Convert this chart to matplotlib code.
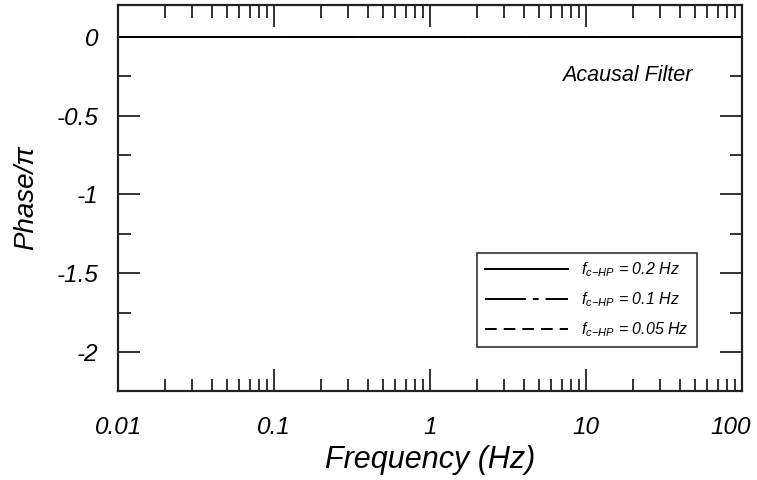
import matplotlib
matplotlib.use('Agg')
import matplotlib.pyplot as plt
import matplotlib.transforms as mtransforms
import numpy as np

plt.rcParams['font.family'] = ['Liberation Sans', 'DejaVu Sans']
plt.rcParams['font.style'] = 'italic'
plt.rcParams['mathtext.fontset'] = 'custom'
plt.rcParams['mathtext.it'] = 'Liberation Sans:italic'
plt.rcParams['mathtext.rm'] = 'Liberation Sans:italic'

# data: phase of an acausal (zero-phase) filter is zero everywhere
freq = [0.01, 0.1, 1, 10, 100]
phase_02 = [0, 0, 0, 0, 0]
phase_01 = [0, 0, 0, 0, 0]
phase_005 = [0, 0, 0, 0, 0]
labels = [r'$f_{c\mathrm{-}HP}$ = 0.2 Hz', r'$f_{c\mathrm{-}HP}$ = 0.1 Hz', r'$f_{c\mathrm{-}HP}$ = 0.05 Hz']

fig = plt.figure(figsize=(7.57, 4.8), dpi=100)
ax = fig.add_axes([0.156, 0.185, 0.824, 0.805])

ax.plot(freq, phase_02, color='black', lw=1.4, ls='-', label=labels[0])
ax.plot(freq, phase_01, color='black', lw=1.4, ls=(0, (21, 3.6, 3, 3.6)), label=labels[1])
ax.plot(freq, phase_005, color='black', lw=1.4, ls=(0, (6, 3.6)), label=labels[2])

ax.set_xscale('log')
ax.set_xlim(0.01, 100)
ax.set_ylim(-2.205, 0.205)
ax.set_yticks([0, -0.5, -1, -1.5, -2])
ax.set_yticklabels(['0', '-0.5', '-1', '-1.5', '-2'])
ax.set_yticks(np.arange(-2.25, 0.2, 0.25), minor=True)
ax.set_xticks(freq)
ax.set_xticklabels(['0.01', '0.1', '1', '10', '100'])

ax.tick_params(which='both', direction='in', top=True, right=True, width=1.3, colors='#222222',
               labelsize=17.5, labelcolor='black')
ax.tick_params(which='major', length=16)
ax.tick_params(which='minor', length=9)
ax.tick_params(axis='x', which='major', pad=18)
ax.tick_params(axis='y', which='major', pad=14)
for s in ax.spines.values():
    s.set_linewidth(1.6)
    s.set_color('#222222')

# last x label pulled left so it stays inside the figure
last = ax.get_xticklabels()[-1]
last.set_transform(last.get_transform() + mtransforms.ScaledTranslation(-8 / 72, 0, fig.dpi_scale_trans))

ax.set_xlabel('Frequency (Hz)', fontsize=22, labelpad=4)
ax.set_ylabel('Phase/\u03c0', fontsize=20, labelpad=13)

ax.text(0.921, 0.818, 'Acausal Filter', transform=ax.transAxes, ha='right', va='center', fontsize=15.5)

leg = ax.legend(loc='lower right', bbox_to_anchor=(0.928, 0.114), fontsize=11.5, frameon=True,
                fancybox=False, edgecolor='black', handlelength=5.2, labelspacing=0.7,
                borderpad=0.5, handletextpad=0.8, borderaxespad=0)
leg.get_frame().set_linewidth(1.2)

fig.savefig('out.png', dpi=100)
